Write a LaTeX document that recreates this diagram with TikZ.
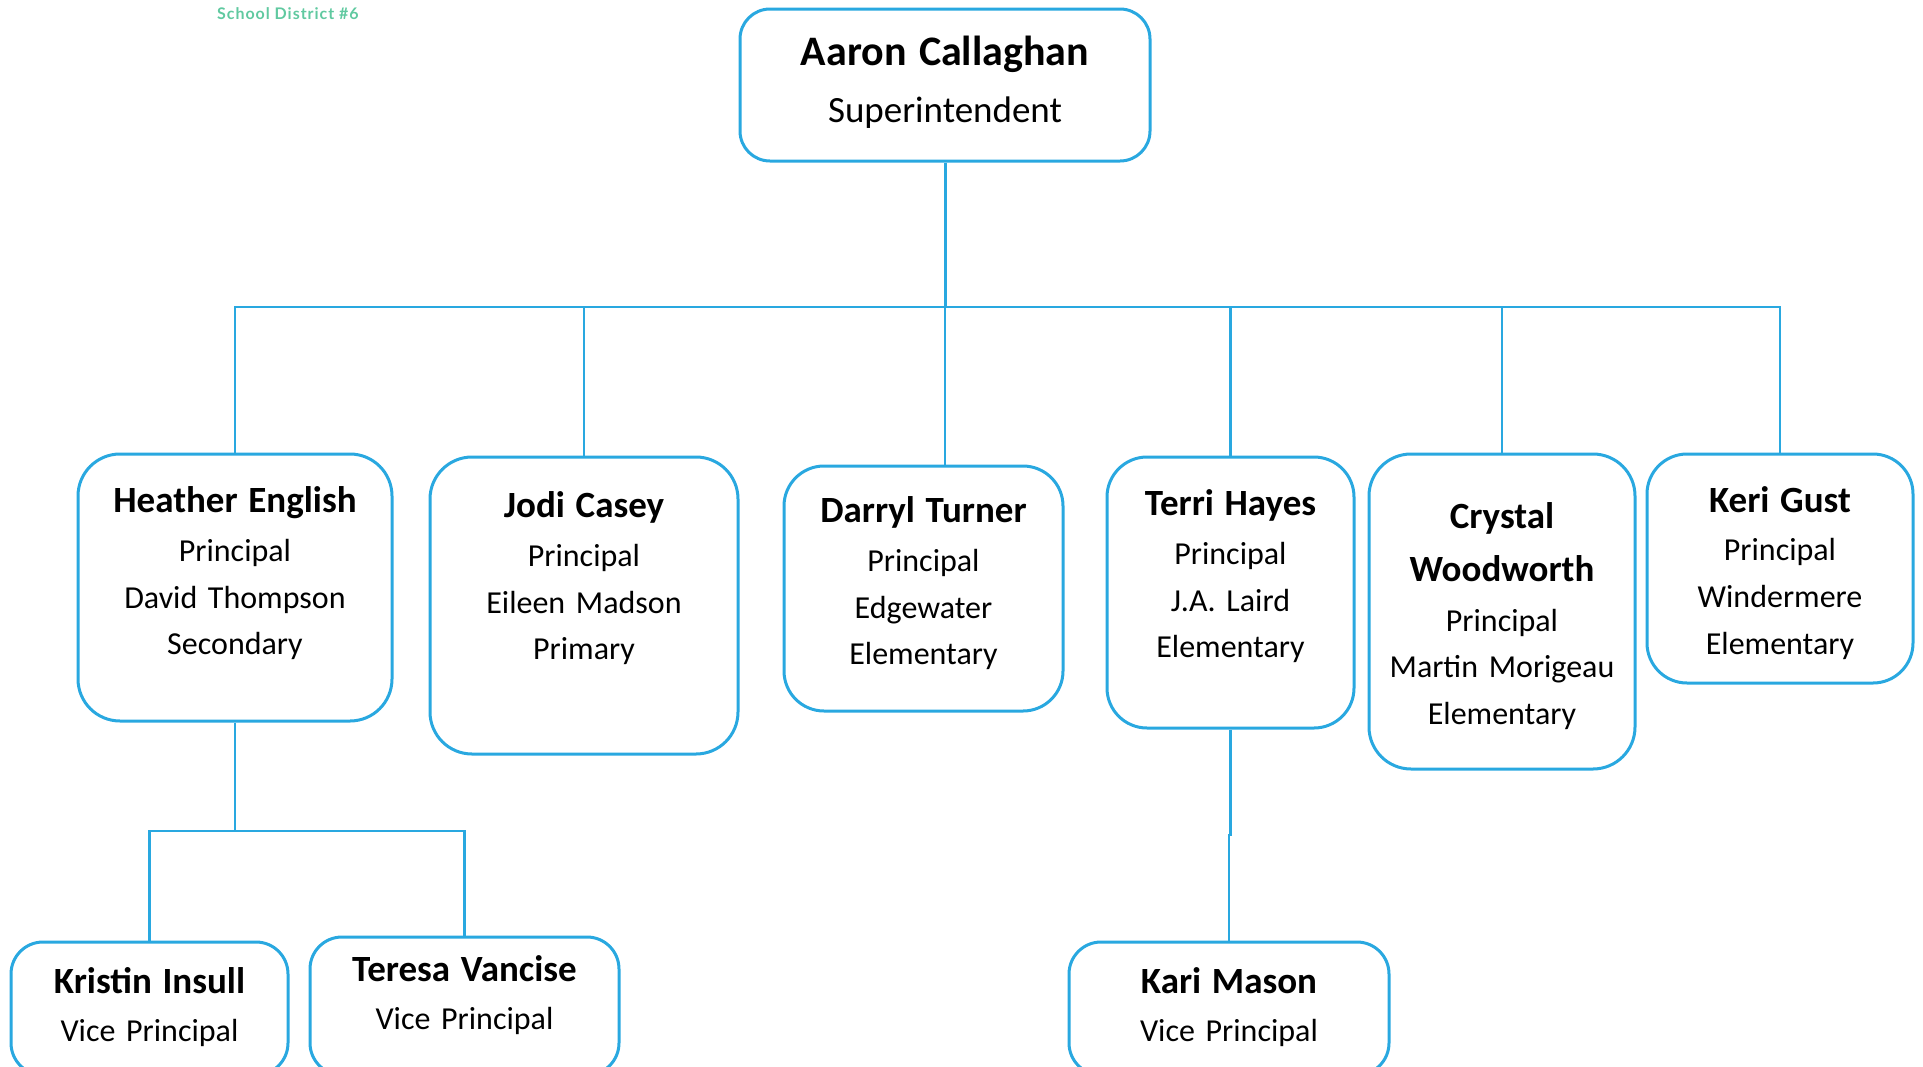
\documentclass[tikz,border=0pt]{standalone}
\usepackage{fontspec}
\setmainfont{Carlito}
\newfontfamily\titlefont[LetterSpace=6]{Lato}
\definecolor{boxblue}{RGB}{41,168,224}
\definecolor{titlegreen}{RGB}{96,201,160}
\newcommand\nm[1]{{\bfseries\fontsize{37}{46.8}\selectfont #1}}
\begin{document}
\begin{tikzpicture}[x=1pt,y=-1pt,
  orgbox/.style={draw=boxblue,line width=3pt,rounded corners=#1,fill=white,inner sep=0pt},
  orgbox/.default=40pt,
  txt/.style={text width=340pt,align=center,anchor=base,inner sep=0pt,
    font=\fontsize{32}{46.8}\selectfont},
  conn/.style={draw=boxblue,line width=2.5pt}]
\useasboundingbox (0,0) rectangle (1923,1066);
\clip (0,0) rectangle (1923,1066);

\node[anchor=base west,inner sep=0pt,text=titlegreen,font=\titlefont\bfseries\fontsize{16}{19}\selectfont] (title) at (217,19) {School District \#6};

% boxes
\node[orgbox=30pt,minimum width=410pt,minimum height=152pt] (top) at (945,85) {};
\node[orgbox=42pt,minimum width=314pt,minimum height=267pt] (heather) at (235,587.5) {};
\node[orgbox=42pt,minimum width=308pt,minimum height=297pt] (jodi) at (584,605.5) {};
\node[orgbox=40pt,minimum width=279pt,minimum height=245pt] (darryl) at (923.5,588.5) {};
\node[orgbox=40pt,minimum width=247pt,minimum height=271pt] (terri) at (1230.5,592.5) {};
\node[orgbox=42pt,minimum width=266pt,minimum height=315pt] (crystal) at (1502,611.5) {};
\node[orgbox=40pt,minimum width=266pt,minimum height=229pt] (keri) at (1780,568.5) {};
\node[orgbox=32pt,minimum width=277pt,minimum height=133pt] (kristin) at (149.5,1008.5) {};
\node[orgbox=32pt,minimum width=309pt,minimum height=138pt] (teresa) at (464.5,1006) {};
\node[orgbox=32pt,minimum width=320pt,minimum height=133pt] (kari) at (1229,1008.5) {};

% texts
\node[txt,font=\fontsize{37}{57}\selectfont] (toptext) at (945,65) {{\bfseries\fontsize{42}{57}\selectfont Aaron Callaghan}\\ Superintendent};
\node[txt] (heathertext) at (235,512) {\nm{Heather English}\\[2.5pt] Principal\\ David Thompson\\ Secondary};
\node[txt] (joditext) at (584,517) {\nm{Jodi Casey}\\[2.5pt] Principal\\ Eileen Madson\\ Primary};
\node[txt] (darryltext) at (923.5,522) {\nm{Darryl Turner}\\[2.5pt] Principal\\ Edgewater\\ Elementary};
\node[txt] (territext) at (1230.5,515) {\nm{Terri Hayes}\\[2.5pt] Principal\\ J.A. Laird\\ Elementary};
\node[txt] (crystaltext) at (1502,528) {\nm{Crystal}\\[7pt] \nm{Woodworth}\\[2.5pt] Principal\\ Martin Morigeau\\ Elementary};
\node[txt] (keritext) at (1780,512) {\nm{Keri Gust}\\[2pt] Principal\\ Windermere\\ Elementary};
\node[txt] (kristintext) at (149.5,993) {\nm{Kristin Insull}\\[1.5pt] Vice Principal};
\node[txt] (teresatext) at (464.5,981) {\nm{Teresa Vancise}\\[1.5pt] Vice Principal};
\node[txt] (karitext) at (1229,993) {\nm{Kari Mason}\\[1.5pt] Vice Principal};

% connectors
\coordinate (bus) at (945,307);
\draw[conn,line width=3pt] (top.south) -- (bus);
\draw[conn] (bus) -| (heather.north);
\draw[conn] (bus) -| (jodi.north);
\draw[conn] (bus) -- (bus |- darryl.north);
\draw[conn] (bus) -| (terri.north);
\draw[conn] (bus) -| (crystal.north);
\draw[conn] (bus) -| (keri.north);

\coordinate (hjoin) at (235,831);
\draw[conn] (heather.south) -- (hjoin);
\draw[conn] (hjoin) -| (kristin.north);
\draw[conn] (hjoin) -| (teresa.north);

\coordinate (tjoin) at (1230.5,835);
\draw[conn] (terri.south) -- (tjoin) -| (kari.north);
\end{tikzpicture}
\end{document}
